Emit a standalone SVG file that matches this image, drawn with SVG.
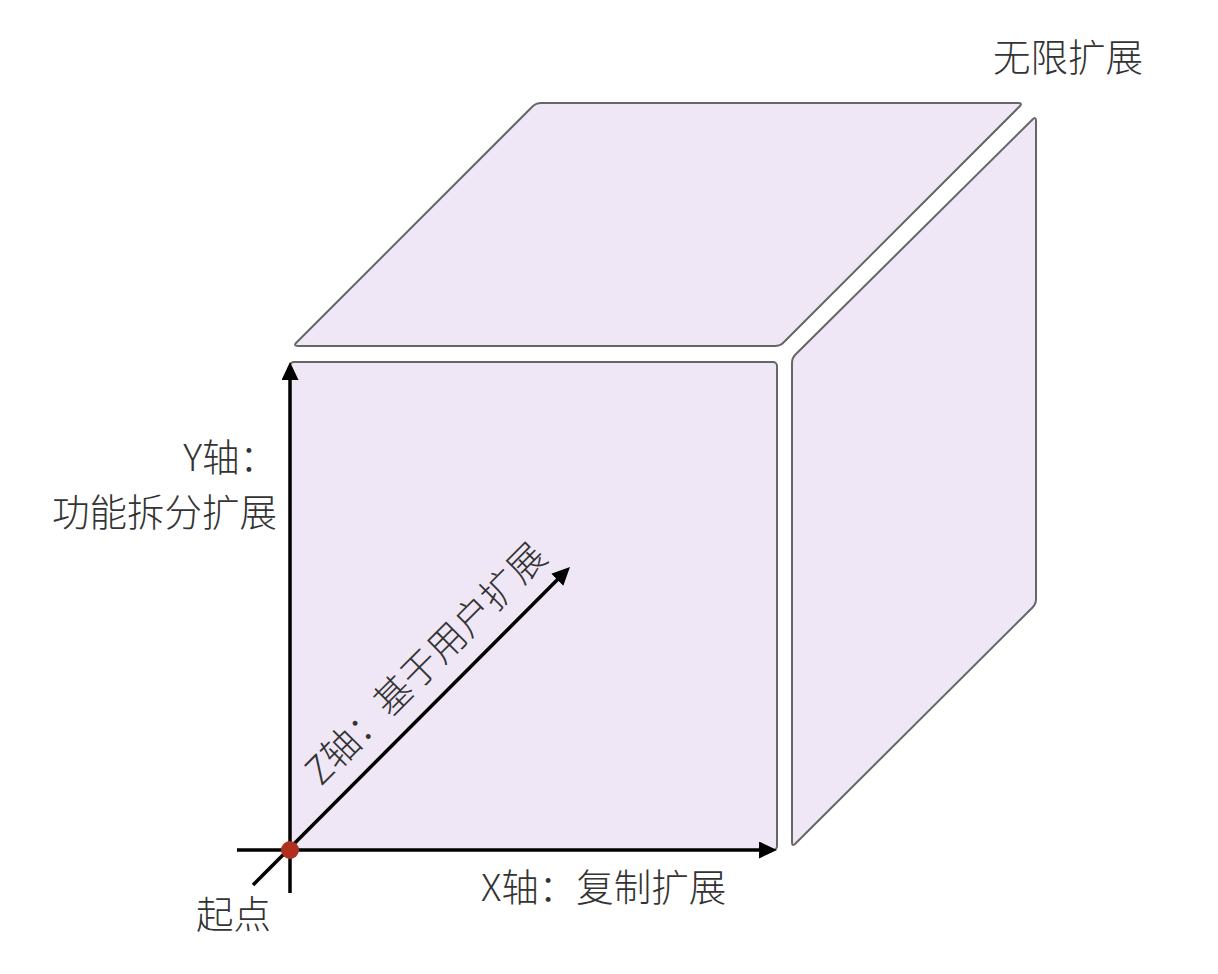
<svg xmlns="http://www.w3.org/2000/svg" width="1218" height="974" viewBox="0 0 1218 974">
<style>
.face{fill:#efe7f5;stroke:#666;stroke-width:2}
.axis{stroke:#000;stroke-width:3.5;fill:none}
.lbl{font-family:"Noto Sans CJK SC","Liberation Sans",sans-serif;font-size:37.5px;font-weight:300;fill:#333}
</style>
<defs>
<marker id="arr" markerUnits="userSpaceOnUse" markerWidth="19" markerHeight="17" refX="5" refY="8.5" orient="auto" viewBox="0 0 19 17">
<path d="M0,0 L18,8.5 L0,17 Z" fill="#000"/>
</marker>
</defs>
<rect width="1218" height="974" fill="#fff"/>
<g id="top-face">
<path class="face" d="M298,346 Q293,346 296.5,342.5 L532.5,106.5 Q536,103 541,103 L1018,103 Q1023,103 1019.5,106.5 L783.5,342.5 Q780,346 775,346 Z"/>
</g>
<g id="right-face">
<path class="face" d="M792,363 Q792,358 795.5,354.5 L1032.5,119.5 Q1036,116 1036,121 L1036,599 Q1036,604 1032.5,607.5 L795.5,843.5 Q792,847 792,842 Z"/>
</g>
<g id="front-face">
<rect class="face" x="290" y="362" width="487" height="488" rx="4"/>
</g>
<g id="connectors">
<line class="axis" x1="290" y1="893" x2="290" y2="375" marker-end="url(#arr)"/>
<line class="axis" x1="237" y1="850" x2="764" y2="850" marker-end="url(#arr)"/>
<line class="axis" x1="253" y1="885" x2="560.8" y2="576.2" marker-end="url(#arr)"/>
</g>
<g id="origin">
<circle cx="290" cy="850" r="9" fill="#b0301f"/>
</g>
<g id="labels">
<text class="lbl" x="993" y="71">无限扩展</text>
<text class="lbl" x="277" y="471" text-anchor="end">Y轴：</text>
<text class="lbl" x="277" y="526" text-anchor="end">功能拆分扩展</text>
<text class="lbl" x="481" y="901">X轴：复制扩展</text>
<text class="lbl" x="196" y="928">起点</text>
<text class="lbl" transform="translate(435,673) rotate(-45)" text-anchor="middle">Z轴：基于用户扩展</text>
</g>
</svg>
